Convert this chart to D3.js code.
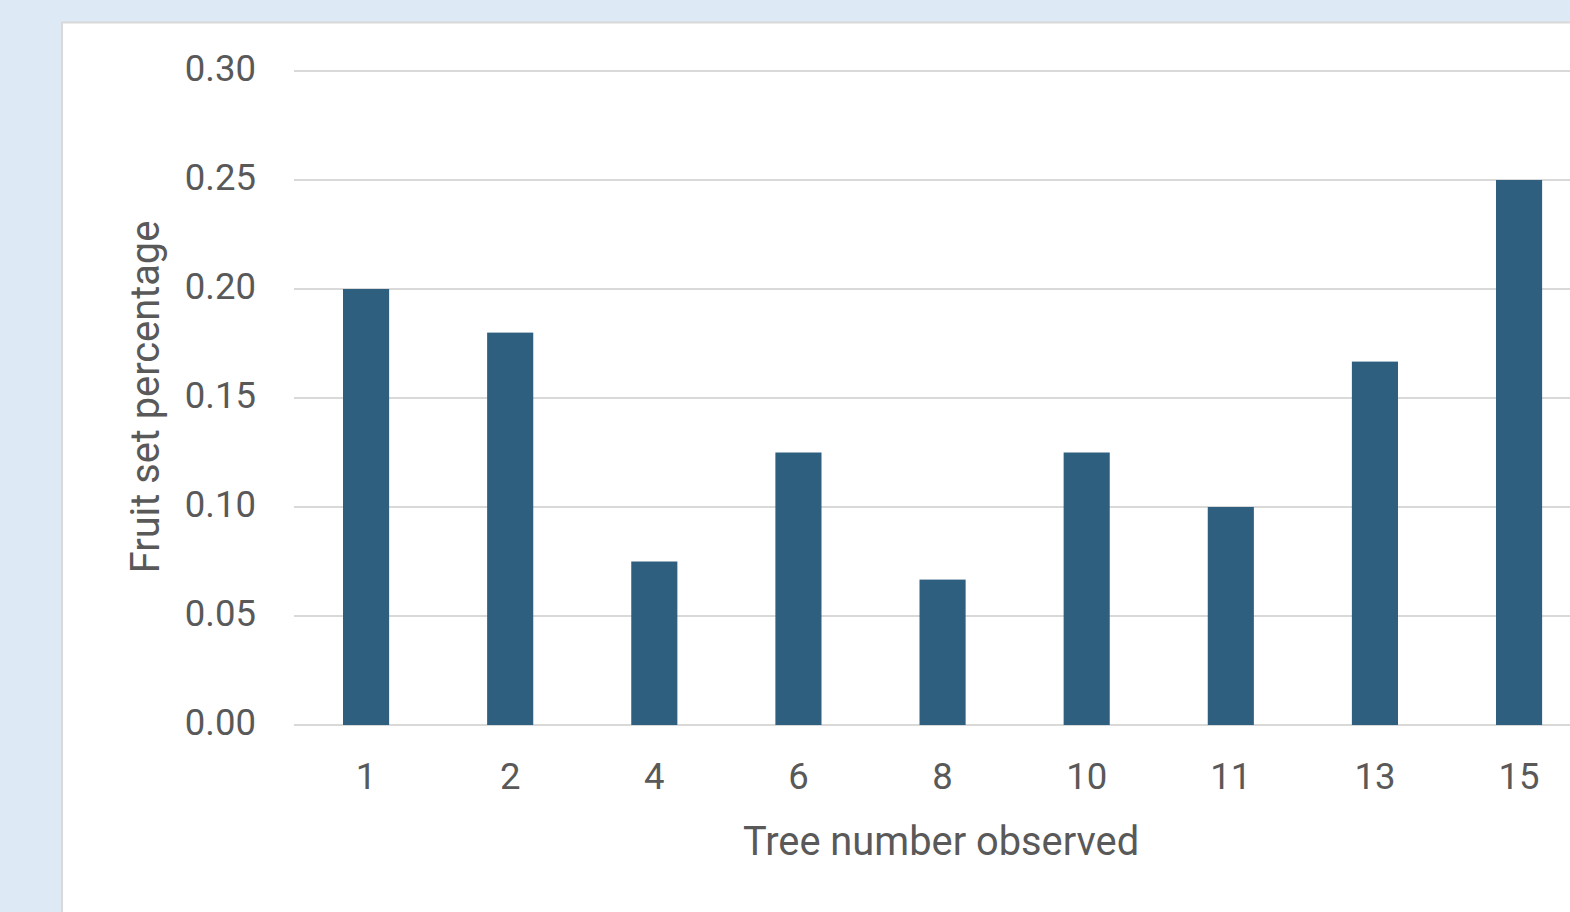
<!DOCTYPE html>
<html>
<head>
<meta charset="utf-8">
<script src="https://cdn.jsdelivr.net/npm/d3@7"></script>
<style>
  html, body { margin: 0; padding: 0; background: #dde9f5; overflow: hidden; }
  svg { display: block; }
</style>
</head>
<body>
<svg id="chart" width="1570" height="912"></svg>
<script>
// Fruit set per observed tree
const trees = ["1", "2", "4", "6", "8", "10", "11", "13", "15"];
const fruitSet = [0.20, 0.18, 0.075, 0.125, 0.0667, 0.125, 0.10, 0.1667, 0.25];
const yTicks = [0, 0.05, 0.10, 0.15, 0.20, 0.25, 0.30];

const svg = d3.select("#chart");
const W = 1570, H = 912;

// white chart panel
svg.append("rect")
  .attr("x", 62).attr("y", 22.5)
  .attr("width", W).attr("height", H)
  .attr("fill", "#ffffff")
  .attr("stroke", "#d9d9d9").attr("stroke-width", 2);

const plotLeft = 294, plotTop = 71, plotBottom = 725;
const step = 144.125;

const x = d3.scaleBand()
  .domain(trees)
  .range([plotLeft, plotLeft + step * trees.length])
  .paddingInner(0.68)
  .paddingOuter(0.34);

const y = d3.scaleLinear().domain([0, 0.30]).range([plotBottom, plotTop]);

const font = "Roboto, 'Open Sans', sans-serif";
const textColor = "#595959";

// horizontal gridlines
svg.append("g")
  .selectAll("line")
  .data(yTicks)
  .join("line")
  .attr("x1", plotLeft).attr("x2", W + 10)
  .attr("y1", d => y(d)).attr("y2", d => y(d))
  .attr("stroke", "#d9d9d9").attr("stroke-width", 2);

// bars
svg.append("g")
  .selectAll("rect")
  .data(trees.map((t, i) => ({ t, v: fruitSet[i] })))
  .join("rect")
  .attr("x", d => x(d.t))
  .attr("width", x.bandwidth())
  .attr("y", d => y(d.v))
  .attr("height", d => y(0) - y(d.v))
  .attr("fill", "#2e5f7f");

// y axis labels
const yAxis = d3.axisLeft(y).tickValues(yTicks).tickFormat(d3.format(".2f")).tickSize(0).tickPadding(0);
const gy = svg.append("g").attr("transform", `translate(256,-2)`).call(yAxis);
gy.select(".domain").remove();
gy.selectAll("text")
  .attr("font-family", font).attr("font-size", 36.5).attr("fill", textColor);

// x axis labels
const xAxis = d3.axisBottom(x).tickSize(0).tickPadding(0);
const gx = svg.append("g").attr("transform", `translate(0,${plotBottom + 38})`).call(xAxis);
gx.select(".domain").remove();
gx.selectAll("text")
  .attr("font-family", font).attr("font-size", 36.5).attr("fill", textColor);

// axis titles
svg.append("text")
  .attr("x", 941).attr("y", 855)
  .attr("text-anchor", "middle")
  .attr("font-family", font).attr("font-size", 39.8).attr("fill", textColor)
  .text("Tree number observed");

svg.append("text")
  .attr("transform", "translate(159,397) rotate(-90)")
  .attr("text-anchor", "middle")
  .attr("font-family", font).attr("font-size", 39.8).attr("fill", textColor)
  .text("Fruit set percentage");
</script>
</body>
</html>
